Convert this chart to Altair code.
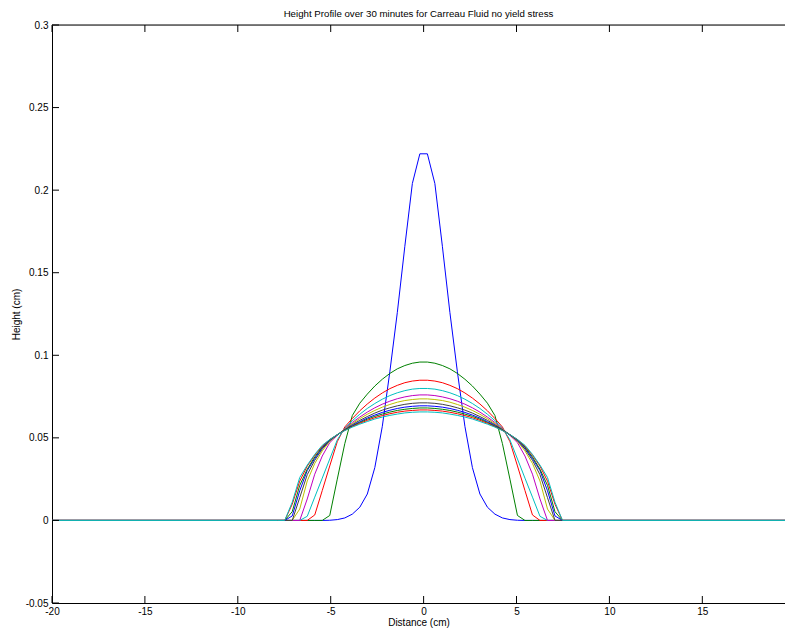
import altair as alt
import pandas as pd

# half-profile grid (x >= 0); each curve is symmetric about x = 0
x_half = [0.202, 0.606, 1.010, 1.414, 1.818, 2.222, 2.626, 3.030, 3.434, 3.838,
          4.242, 4.646, 5.051, 5.455, 5.859, 6.263, 6.667, 7.071, 7.475, 7.879, 20.0]

h01 = [0.222, 0.204, 0.166, 0.126, 0.090, 0.057, 0.032, 0.016, 0.008, 0.0038,
       0.0015, 0.0005, 0.0001, 0, 0, 0, 0, 0, 0, 0, 0]
h02 = [0.0959, 0.0952, 0.0938, 0.0918, 0.0890, 0.0855, 0.0814, 0.0765, 0.0710, 0.0635,
       0.0465, 0.025, 0.003, 0, 0, 0, 0, 0, 0, 0, 0]
h03 = [0.0849, 0.0844, 0.0834, 0.0818, 0.0798, 0.0772, 0.0741, 0.0705, 0.0664, 0.0617,
       0.0566, 0.0477, 0.033, 0.0181, 0.0033, 0, 0, 0, 0, 0, 0]
h04 = [0.0799, 0.0795, 0.0786, 0.0773, 0.0756, 0.0734, 0.0708, 0.0678, 0.0643, 0.0604,
       0.0560, 0.0488, 0.0372, 0.0256, 0.0141, 0.0025, 0, 0, 0, 0, 0]
h05 = [0.0760, 0.0756, 0.0748, 0.0737, 0.0722, 0.0704, 0.0682, 0.0656, 0.0626, 0.0593,
       0.0556, 0.0515, 0.0471, 0.039, 0.028, 0.013, 0, 0, 0, 0, 0]
h06 = [0.0736, 0.0732, 0.0726, 0.0716, 0.0702, 0.0686, 0.0666, 0.0643, 0.0616, 0.0586,
       0.0553, 0.0517, 0.0479, 0.0421, 0.0345, 0.0239, 0.0069, 0, 0, 0, 0]
h07 = [0.0712, 0.0709, 0.0703, 0.0694, 0.0682, 0.0668, 0.0650, 0.0629, 0.0606, 0.0580,
       0.0550, 0.0518, 0.0483, 0.0432, 0.0364, 0.0277, 0.0138, 0, 0, 0, 0]
h08 = [0.0694, 0.0691, 0.0686, 0.0678, 0.0667, 0.0654, 0.0638, 0.0620, 0.0598, 0.0575,
       0.0548, 0.0518, 0.0486, 0.0440, 0.0375, 0.0302, 0.0180, 0.0027, 0, 0, 0]
h09 = [0.0681, 0.0678, 0.0673, 0.0666, 0.0656, 0.0644, 0.0630, 0.0613, 0.0593, 0.0571,
       0.0547, 0.0519, 0.0488, 0.0445, 0.0384, 0.0310, 0.0212, 0.0053, 0, 0, 0]
h10 = [0.0669, 0.0666, 0.0662, 0.0655, 0.0646, 0.0635, 0.0622, 0.0606, 0.0588, 0.0568,
       0.0545, 0.0519, 0.0490, 0.0450, 0.0395, 0.0329, 0.0238, 0.0098, 0, 0, 0]
h11 = [0.0657, 0.0655, 0.0651, 0.0644, 0.0636, 0.0626, 0.0614, 0.0599, 0.0583, 0.0565,
       0.0544, 0.0520, 0.0490, 0.0455, 0.0400, 0.0335, 0.0260, 0.0110, 0, 0, 0]

series = [h01, h02, h03, h04, h05, h06, h07, h08, h09, h10, h11]
series_ids = ["s01", "s02", "s03", "s04", "s05", "s06", "s07", "s08", "s09", "s10", "s11"]
series_colors = ["#0000FF", "#008000", "#FF0000", "#00BFBF", "#BF00BF", "#BFBF00",
                 "#404040", "#0000FF", "#008000", "#FF0000", "#00BFBF"]

x_ticks = [-20, -15, -10, -5, 0, 5, 10, 15, 20]
y_ticks = [-0.05, 0, 0.05, 0.1, 0.15, 0.2, 0.25, 0.3]

TITLE = "Height Profile over 30 minutes for Carreau Fluid no yield stress"
FONT = "Liberation Sans"
W, H = 733, 578
X_MAX = 19.45

rows = []
for sid, vals in zip(series_ids, series):
    for xv, yv in zip(reversed(x_half), reversed(vals)):
        rows.append({"s": sid, "x": -xv, "y": yv})
    for xv, yv in zip(x_half, vals):
        rows.append({"s": sid, "x": xv, "y": yv})
df = pd.DataFrame(rows)

xs = alt.Scale(domain=[-20, X_MAX], nice=False, zero=False)
ys = alt.Scale(domain=[-0.05, 0.3], nice=False, zero=False)

lab = "(datum.value < 0 ? '-' : '') + format(abs(datum.value), '~g')"
xt_vis = [t for t in x_ticks if t <= X_MAX]

x_axis = alt.Axis(values=xt_vis, title="Distance (cm)", grid=False, ticks=False,
                  labelExpr=lab, labelPadding=3, titlePadding=1, domainColor="black",
                  labelFlush=False, titleFontWeight="normal", titleFont=FONT,
                  titleFontSize=10, labelFont=FONT, labelFontSize=10,
                  labelColor="black", titleColor="black")
y_axis = alt.Axis(values=y_ticks, title="Height (cm)", grid=False, ticks=False,
                  labelExpr=lab, labelPadding=4, titlePadding=4, domainColor="black",
                  titleFontWeight="normal", titleFont=FONT, titleFontSize=10,
                  labelFont=FONT, labelFontSize=10, labelColor="black", titleColor="black")

lines = alt.Chart(df).mark_line(strokeWidth=1, clip=True).encode(
    x=alt.X("x:Q", scale=xs, axis=x_axis, title="Distance (cm)"),
    y=alt.Y("y:Q", scale=ys, axis=y_axis, title="Height (cm)"),
    color=alt.Color("s:N", scale=alt.Scale(domain=series_ids, range=series_colors), legend=None),
)

xt_df = pd.DataFrame({"x": xt_vis})
yt_df = pd.DataFrame({"y": y_ticks})

bottom_ticks = alt.Chart(xt_df).mark_rule(color="black", strokeWidth=1).encode(
    x=alt.X("x:Q", scale=xs, axis=x_axis, title="Distance (cm)"),
    y=alt.value(H), y2=alt.value(H - 7))
top_ticks = alt.Chart(xt_df).mark_rule(color="black", strokeWidth=1).encode(
    x=alt.X("x:Q", scale=xs, axis=x_axis, title="Distance (cm)"),
    y=alt.value(0), y2=alt.value(7))
left_ticks = alt.Chart(yt_df).mark_rule(color="black", strokeWidth=1).encode(
    y=alt.Y("y:Q", scale=ys, axis=y_axis, title="Height (cm)"),
    x=alt.value(0), x2=alt.value(7))
top_line = alt.Chart(pd.DataFrame({"a": [0]})).mark_rule(color="black", strokeWidth=1).encode(
    x=alt.value(0), x2=alt.value(W), y=alt.value(0))

chart = alt.layer(lines, bottom_ticks, top_ticks, left_ticks, top_line).properties(
    width=W, height=H,
    autosize="none",
    padding={"left": 44, "top": 17, "right": 0, "bottom": 26},
    title=alt.TitleParams(TITLE, fontSize=9.7, fontWeight="normal", font=FONT,
                          color="black", anchor="middle", offset=1),
).configure_view(stroke=None).configure_axis(
    labelFont=FONT, titleFont=FONT, labelFontSize=10, titleFontSize=10,
    labelColor="black", titleColor="black", titleFontWeight="normal",
).configure(background="white")

chart.save("out.html", embed_options={"renderer": "svg", "actions": False})
